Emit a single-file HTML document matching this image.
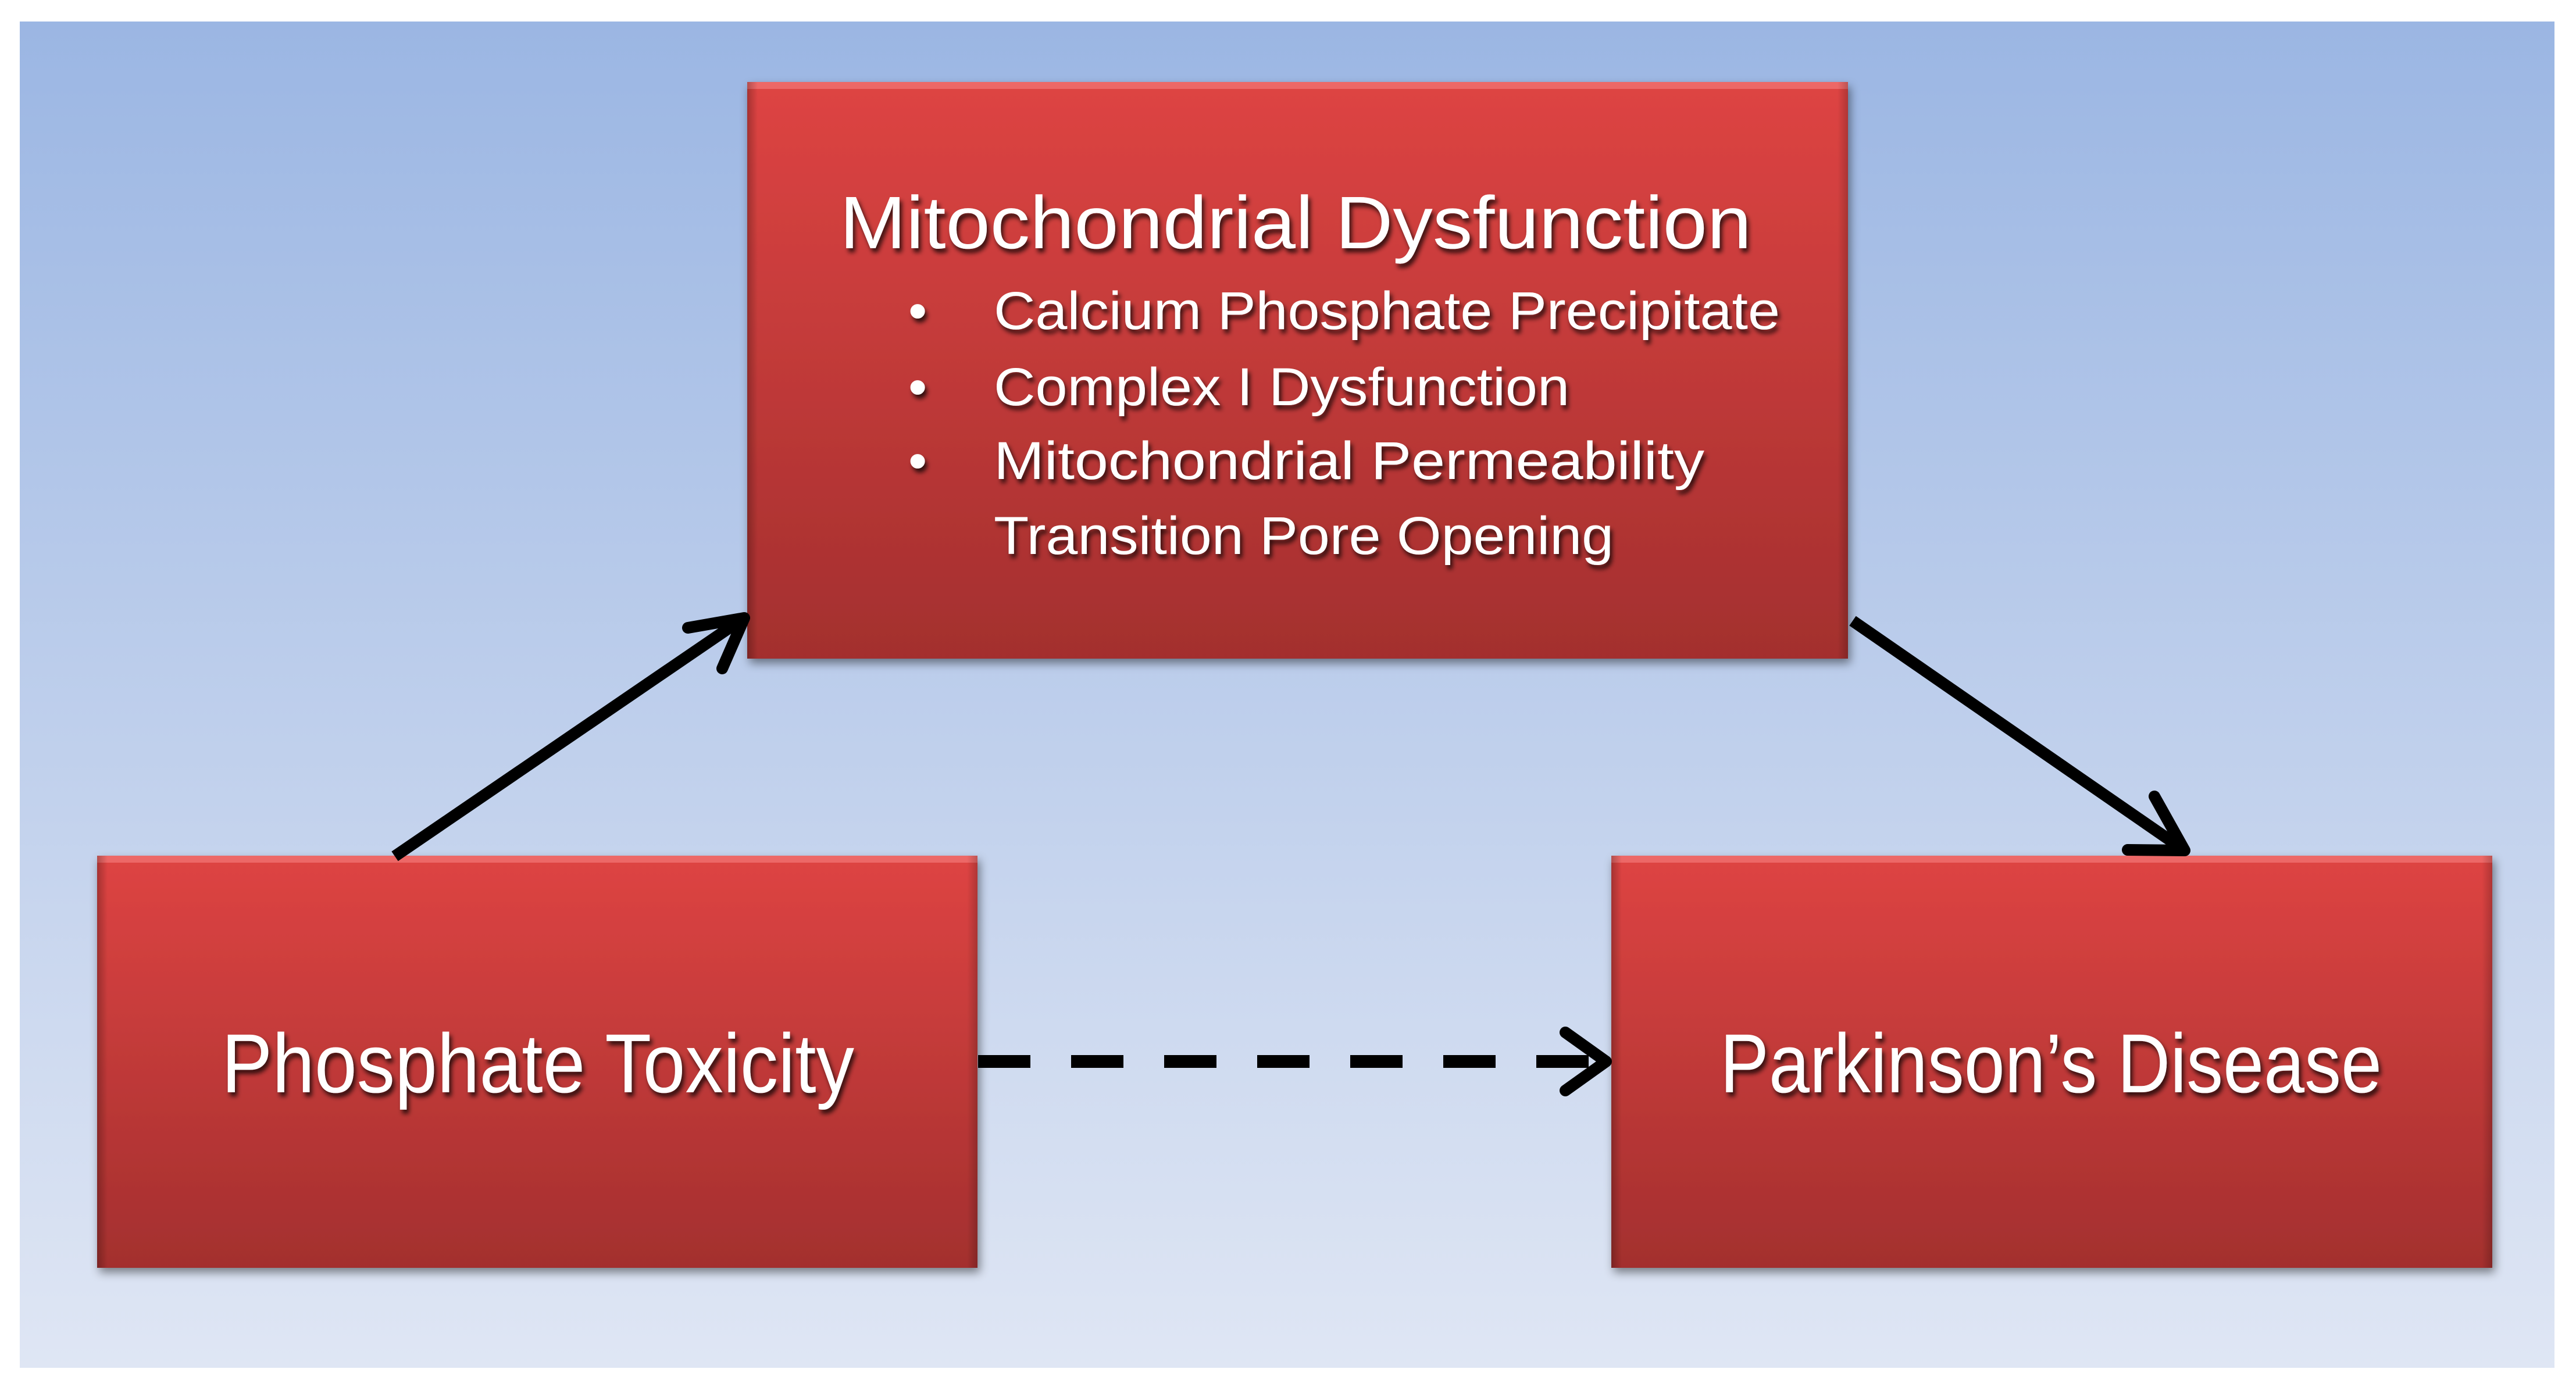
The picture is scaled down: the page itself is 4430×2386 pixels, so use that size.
<!DOCTYPE html>
<html><head><meta charset="utf-8"><style>
html,body{margin:0;padding:0;background:#fff;}
svg{display:block;}
text{font-family:"Liberation Sans",sans-serif;fill:#fff;}
</style></head><body>
<svg width="4430" height="2386" viewBox="0 0 4430 2386" xmlns="http://www.w3.org/2000/svg">
<defs>
<linearGradient id="bg" x1="0" y1="0" x2="0" y2="1">
<stop offset="0" stop-color="#9bb6e3"/><stop offset="1" stop-color="#dfe6f4"/>
</linearGradient>
<linearGradient id="box" x1="0" y1="0" x2="0" y2="1">
<stop offset="0" stop-color="#de4443"/><stop offset="1" stop-color="#a32f2e"/>
</linearGradient>
<linearGradient id="edgeL" x1="0" y1="0" x2="1" y2="0">
<stop offset="0" stop-color="#000" stop-opacity="0.25"/><stop offset="1" stop-color="#000" stop-opacity="0"/>
</linearGradient>
<linearGradient id="edgeR" x1="1" y1="0" x2="0" y2="0">
<stop offset="0" stop-color="#000" stop-opacity="0.2"/><stop offset="1" stop-color="#000" stop-opacity="0"/>
</linearGradient>
<filter id="sh" x="-5%" y="-5%" width="110%" height="115%">
<feDropShadow dx="4" dy="8" stdDeviation="8" flood-color="#000" flood-opacity="0.45"/>
</filter>
<filter id="ts" x="-5%" y="-20%" width="110%" height="150%">
<feDropShadow dx="4" dy="7" stdDeviation="4" flood-color="#000" flood-opacity="0.75"/>
</filter>
</defs>
<rect x="34" y="37" width="4359" height="2316" fill="url(#bg)"/>

<!-- boxes -->
<g filter="url(#sh)">
<rect x="1285" y="141" width="1893" height="992" fill="url(#box)"/>
<rect x="167" y="1472" width="1514" height="709" fill="url(#box)"/>
<rect x="2771" y="1472" width="1515" height="709" fill="url(#box)"/>
</g>
<g>
<rect x="1285" y="141" width="1893" height="12" fill="#f07070" opacity="0.8"/>
<rect x="1285" y="141" width="18" height="992" fill="url(#edgeL)"/>
<rect x="3160" y="141" width="18" height="992" fill="url(#edgeR)"/>
<rect x="167" y="1472" width="1514" height="12" fill="#f07070" opacity="0.8"/>
<rect x="167" y="1472" width="18" height="709" fill="url(#edgeL)"/>
<rect x="1663" y="1472" width="18" height="709" fill="url(#edgeR)"/>
<rect x="2771" y="1472" width="1515" height="12" fill="#f07070" opacity="0.8"/>
<rect x="2771" y="1472" width="18" height="709" fill="url(#edgeL)"/>
<rect x="4268" y="1472" width="18" height="709" fill="url(#edgeR)"/>
</g>

<!-- text -->
<g filter="url(#ts)">
<text x="1444" y="427" font-size="128" textLength="1568" lengthAdjust="spacingAndGlyphs">Mitochondrial Dysfunction</text>
<text x="1562" y="566" font-size="92">•</text>
<text x="1562" y="697" font-size="92">•</text>
<text x="1562" y="824" font-size="92">•</text>
<text x="1709" y="566" font-size="92" textLength="1352" lengthAdjust="spacingAndGlyphs">Calcium Phosphate Precipitate</text>
<text x="1709" y="697" font-size="92" textLength="990" lengthAdjust="spacingAndGlyphs">Complex I Dysfunction</text>
<text x="1709" y="824" font-size="92" textLength="1222" lengthAdjust="spacingAndGlyphs">Mitochondrial Permeability</text>
<text x="1709" y="953" font-size="92" textLength="1066" lengthAdjust="spacingAndGlyphs">Transition Pore Opening</text>
<text x="381" y="1879" font-size="144" textLength="1088" lengthAdjust="spacingAndGlyphs">Phosphate Toxicity</text>
<text x="2958" y="1879" font-size="144" textLength="1138" lengthAdjust="spacingAndGlyphs">Parkinson’s Disease</text>
</g>

<!-- connectors -->
<g stroke="#000" stroke-width="20" fill="none" stroke-linecap="round" stroke-linejoin="round">
<line x1="679" y1="1473" x2="1272" y2="1068" stroke-linecap="butt"/>
<polyline points="1183,1080 1280,1063 1242,1150"/>
<line x1="3186" y1="1068" x2="3750" y2="1458" stroke-linecap="butt"/>
<polyline points="3705,1370 3757,1463 3659,1462"/>
<line x1="1682" y1="1826" x2="2740" y2="1826" stroke-width="22" stroke-linecap="butt" stroke-dasharray="90 70"/>
<polyline points="2692,1776 2762,1826 2692,1876"/>
</g>
</svg>
</body></html>
